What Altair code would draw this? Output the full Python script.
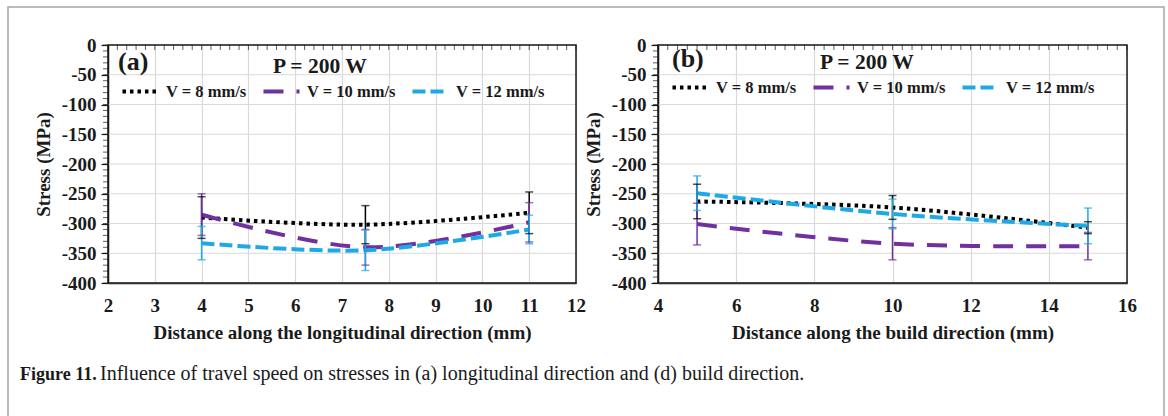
import altair as alt
import pandas as pd

SERIES = ["V = 8 mm/s", "V = 10 mm/s", "V = 12 mm/s"]
COLORS = ["#000000", "#7030A0", "#1EA9E6"]
DASHES = [[3.5, 4], [20, 13], [13, 5]]

# panel (a): longitudinal direction
A_X = [4, 7.5, 11]
A_V8 = [-290, -302, -282]
A_V10 = [-285, -340, -298]
A_V12 = [-333, -345, -310]
A_E8 = [35, 32, 35]
A_E10 = [35, 30, 33]
A_E12 = [28, 34, 24]

# panel (b): build direction
B_X = [5, 10, 15]
B_V8 = [-263, -273, -307]
B_V10 = [-301, -334, -338]
B_V12 = [-249, -284, -304]
B_E8 = [29, 20, 10]
B_E10 = [35, 27, 23]
B_E12 = [29, 25, 30]

A_XTICKS = [2, 3, 4, 5, 6, 7, 8, 9, 10, 11, 12]
B_XTICKS = [4, 6, 8, 10, 12, 14, 16]
Y_TICKS = [-400, -350, -300, -250, -200, -150, -100, -50, 0]
Y_MINOR = list(range(-400, 1, 10))
A_TOP_MINOR = [round(2 + 0.2 * i, 1) for i in range(51)]
B_TOP_MINOR = [4 + 0.25 * i for i in range(49)]

A_XTITLE = "Distance along the longitudinal direction (mm)"
B_XTITLE = "Distance along the build direction (mm)"
Y_TITLE = "Stress (MPa)"
TAGS = ["(a)", "(b)"]
POWER = "P = 200 W"
CAP_BOLD = "Figure 11."
CAP_TEXT = "Influence of travel speed on stresses in (a) longitudinal direction and (d) build direction."

FONT = "Liberation Serif"
INK = "#1a1a1a"
GRID = "#d9d9d9"
Y_DOMAIN = [-400, 0]


def panel(xs, vals, errs, xdom, xrng, xticks, topminor, xtitle, yoff, legxy, tag, tagxy, powxy):
    rows = []
    for s, vv, ee in zip(SERIES, vals, errs):
        for x, v, e in zip(xs, vv, ee):
            rows.append({"series": s, "x": x, "y": v, "lo": v - e, "hi": v + e})
    df = pd.DataFrame(rows)

    xsc = alt.Scale(domain=xdom, range=xrng, nice=False, zero=False)
    ysc = alt.Scale(domain=Y_DOMAIN, nice=False, zero=False)

    legend = alt.Legend(
        title=None, orient="none", legendX=legxy[0], legendY=legxy[1],
        direction="horizontal", symbolType="stroke", symbolSize=1300,
        symbolStrokeWidth=4, labelFont=FONT, labelFontSize=16.5,
        labelFontWeight="bold", labelColor=INK, columnPadding=8, labelOffset=5,
    )
    color = alt.Color("series:N", scale=alt.Scale(domain=SERIES, range=COLORS), legend=legend)
    dash = alt.StrokeDash("series:N", scale=alt.Scale(domain=SERIES, range=DASHES), legend=legend)
    color_nl = alt.Color("series:N", scale=alt.Scale(domain=SERIES, range=COLORS), legend=None)

    xaxis = alt.Axis(
        title=xtitle, values=xticks, orient="bottom", grid=True, gridColor=GRID,
        gridWidth=1.2, tickSize=0, domainColor=INK, domainWidth=1.5,
        labelPadding=13, titlePadding=8, labelFont=FONT, labelFontSize=19,
        labelFontWeight="bold", labelColor=INK, titleFont=FONT, titleFontSize=19,
        titleFontWeight="bold", titleColor=INK, labelFlush=False,
    )
    yaxis = alt.Axis(
        title=Y_TITLE, values=Y_TICKS, orient="left", offset=yoff, grid=False,
        tickSize=7, tickColor=INK, tickWidth=1.2, domainColor=INK, domainWidth=1.5,
        labelPadding=5, titlePadding=8, labelFont=FONT, labelFontSize=19,
        labelFontWeight="bold", labelColor=INK, titleFont=FONT, titleFontSize=19,
        titleFontWeight="bold", titleColor=INK, labelExpr="'' + datum.value",
    )

    hgrid = alt.Chart(pd.DataFrame({"v": Y_TICKS, "x0": xdom[0], "x1": xdom[1]})).mark_rule(
        color=GRID, strokeWidth=1.2
    ).encode(
        x=alt.X("x0:Q", scale=xsc, axis=xaxis), x2="x1:Q",
        y=alt.Y("v:Q", scale=ysc, axis=yaxis),
    )
    border = alt.Chart(pd.DataFrame({"x0": [xdom[0]], "x1": [xdom[1]], "y0": [Y_DOMAIN[0]], "y1": [Y_DOMAIN[1]]})).mark_rect(
        fill="transparent", stroke=INK, strokeWidth=1.5
    ).encode(
        x=alt.X("x0:Q", scale=xsc, axis=xaxis), x2="x1:Q",
        y=alt.Y("y0:Q", scale=ysc, axis=yaxis), y2="y1:Q",
    )
    yminor = alt.Chart(pd.DataFrame({"v": Y_MINOR, "x0": xdom[0]})).mark_tick(
        orient="horizontal", size=5, thickness=1, color=INK, xOffset=-2.5
    ).encode(
        x=alt.X("x0:Q", scale=xsc, axis=xaxis),
        y=alt.Y("v:Q", scale=ysc, axis=yaxis),
    )
    topticks = alt.Chart(pd.DataFrame({"v": topminor, "y0": Y_DOMAIN[1]})).mark_tick(
        orient="vertical", size=5, thickness=1, color=INK, yOffset=2.5
    ).encode(
        x=alt.X("v:Q", scale=xsc, axis=xaxis),
        y=alt.Y("y0:Q", scale=ysc, axis=yaxis),
    )
    lines = alt.Chart(df).mark_line(strokeWidth=4, interpolate="cardinal").encode(
        x=alt.X("x:Q", scale=xsc, axis=xaxis),
        y=alt.Y("y:Q", scale=ysc, axis=yaxis),
        color=color, strokeDash=dash,
    )
    ebar = alt.Chart(df).mark_rule(strokeWidth=1.5).encode(
        x=alt.X("x:Q", scale=xsc, axis=xaxis),
        y=alt.Y("lo:Q", scale=ysc, axis=yaxis), y2="hi:Q",
        color=color_nl,
    )
    caps = alt.Chart(df).transform_fold(["lo", "hi"], as_=["k", "v"]).mark_tick(
        orient="horizontal", size=8, thickness=1.5
    ).encode(
        x=alt.X("x:Q", scale=xsc, axis=xaxis),
        y=alt.Y("v:Q", scale=ysc, axis=yaxis),
        color=color_nl,
    )
    tagt = alt.Chart(pd.DataFrame({"t": [tag]})).mark_text(
        font=FONT, fontSize=26, fontWeight="bold", align="left", baseline="alphabetic", color=INK
    ).encode(text="t:N", x=alt.value(tagxy[0]), y=alt.value(tagxy[1]))
    powt = alt.Chart(pd.DataFrame({"t": [POWER]})).mark_text(
        font=FONT, fontSize=21.5, fontWeight="bold", align="left", baseline="alphabetic", color=INK
    ).encode(text="t:N", x=alt.value(powxy[0]), y=alt.value(powxy[1]))

    return alt.layer(hgrid, border, yminor, topticks, lines, ebar, caps, tagt, powt)


pa = panel(A_X, [A_V8, A_V10, A_V12], [A_E8, A_E10, A_E12], [2, 12], [0, 468],
           A_XTICKS, A_TOP_MINOR, A_XTITLE, 0, (12, 26), TAGS[0], (10, 25), (165, 28))
pb = panel(B_X, [B_V8, B_V10, B_V12], [B_E8, B_E10, B_E12], [4, 16], [550, 1019],
           B_XTICKS, B_TOP_MINOR, B_XTITLE, -550, (562, 22), TAGS[1], (564, 22), (712, 24))

outer = alt.Chart(pd.DataFrame({"k": [0]})).mark_rect(
    fill="transparent", stroke="#a6a6a6", strokeWidth=1.5
).encode(x=alt.value(-100), x2=alt.value(1056), y=alt.value(-38), y2=alt.value(400))

capb = alt.Chart(pd.DataFrame({"t": [CAP_BOLD]})).mark_text(
    font=FONT, fontSize=18, fontWeight="bold", align="left", baseline="alphabetic", color=INK
).encode(text="t:N", x=alt.value(-88), y=alt.value(335))
capt = alt.Chart(pd.DataFrame({"t": [CAP_TEXT]})).mark_text(
    font=FONT, fontSize=20, align="left", baseline="alphabetic", color=INK
).encode(text="t:N", x=alt.value(-8), y=alt.value(335))

chart = alt.layer(pa, pb, outer, capb, capt).resolve_scale(
    x="independent", y="independent", color="independent", strokeDash="independent"
).resolve_axis(x="independent", y="independent").resolve_legend(
    color="independent", strokeDash="independent"
).properties(
    width=1019, height=238,
    padding={"left": 108, "top": 45, "right": 41, "bottom": 133},
    autosize=alt.AutoSizeParams(type="none"),
).configure_view(stroke="transparent")

chart.save("out.html", embed_options={"renderer": "svg", "actions": False})
